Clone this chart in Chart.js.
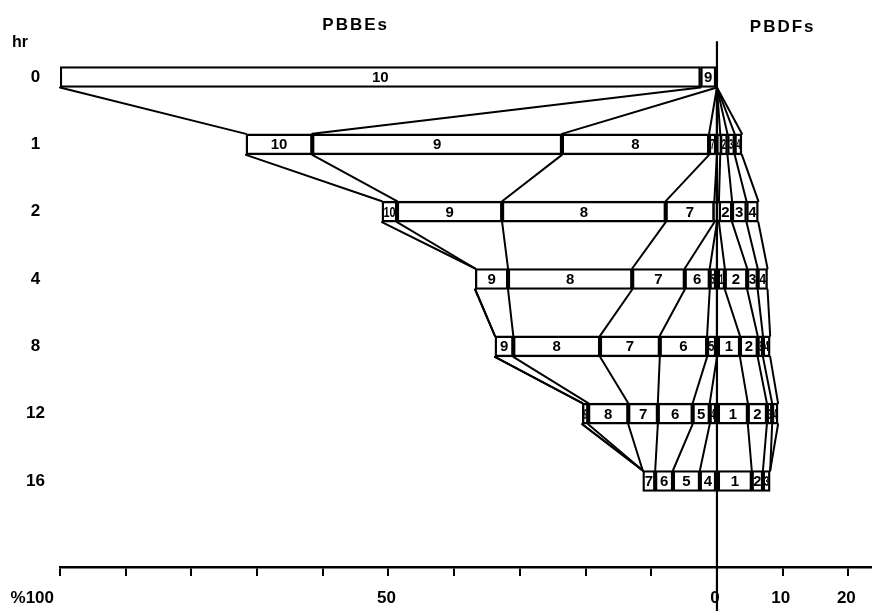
<!DOCTYPE html>
<html>
<head>
<meta charset="utf-8">
<script src="https://cdn.jsdelivr.net/npm/chart.js@4/dist/chart.umd.min.js"></script>
<style>
  html, body { margin: 0; padding: 0; background: #fff; }
  #wrap { width: 872px; height: 611px; }
</style>
</head>
<body>
<div id="wrap"><canvas id="c" width="872" height="611"></canvas></div>
<script>
// Sampling times (hours) — one row each
const hours = ['0', '1', '2', '4', '8', '12', '16'];

// PBBE congener shares (% of total) at each time, plotted to the left of zero
const pbbe10 = [97.5, 10.1,  2.3,  0.0,  0.0, 0.0, 0.0];
const pbbe9  = [ 2.5, 38.0, 16.0,  5.0,  2.8, 0.9, 0.0];
const pbbe8  = [ 0.0, 22.4, 24.9, 18.9, 13.2, 6.1, 0.0];
const pbbe7  = [ 0.0,  1.2,  7.4,  8.0,  9.1, 4.5, 1.9];
const pbbe6  = [ 0.0,  0.0,  0.4,  3.8,  7.2, 5.3, 2.7];
const pbbe5  = [ 0.0,  0.0,  0.0,  1.1,  1.5, 2.6, 4.1];
const pbbe4  = [ 0.0,  0.0,  0.0,  0.0,  0.0, 1.1, 2.6];

// PBDF congener shares (% of total) at each time, plotted to the right of zero
const pbdf1 = [0.0, 0.5, 0.3, 1.2, 3.5, 4.7, 5.3];
const pbdf2 = [0.0, 1.1, 2.0, 3.4, 2.7, 2.9, 1.7];
const pbdf3 = [0.0, 1.1, 2.2, 1.6, 0.8, 0.8, 1.1];
const pbdf4 = [0.0, 1.1, 1.8, 1.5, 1.1, 0.9, 0.0];

// Percent axis: tick marks every 10, numbers only at a few of them
const axisTickValues  = [-100, -90, -80, -70, -60, -50, -40, -30, -20, -10, 0, 10, 20];
const axisLabelValues = [-100, -50, 0, 10, 20];

const FONT = '"Liberation Sans", Arial, Helvetica, sans-serif';
const BAR_PX = 21;

// congeners ordered from the zero line outwards
const pbbeStack = [[4, pbbe4], [5, pbbe5], [6, pbbe6], [7, pbbe7], [8, pbbe8], [9, pbbe9], [10, pbbe10]];
const pbdfStack = [[1, pbdf1], [2, pbdf2], [3, pbdf3], [4, pbdf4]];

// Turn the shares into floating bar segments plus the running boundaries
function buildSide(stack, sign) {
  const segments = [];
  const bounds = stack.map(() => []);
  hours.forEach((h, i) => {
    let acc = 0;
    stack.forEach(([congener, arr], k) => {
      const v = arr[i];
      const from = acc;
      acc += v;
      if (v > 0) {
        const a = sign * from, b = sign * acc;
        segments.push({ x: [Math.min(a, b), Math.max(a, b)], y: i, c: String(congener) });
      }
      bounds[k].push(sign * acc);
    });
  });
  return { segments, bounds };
}

const left = buildSide(pbbeStack, -1);
const right = buildSide(pbdfStack, 1);

const decor = {
  id: 'decor',
  beforeDatasetsDraw(chart) {
    const { ctx, scales: { x, y }, chartArea } = chart;
    ctx.save();
    ctx.strokeStyle = '#000';
    ctx.lineCap = 'round';
    // zero line
    ctx.lineWidth = 2.2;
    const x0 = x.getPixelForValue(0);
    ctx.beginPath();
    ctx.moveTo(x0, chartArea.top);
    ctx.lineTo(x0, chart.height);
    ctx.stroke();
    // links between the same boundary on consecutive rows
    ctx.lineWidth = 2;
    const half = BAR_PX / 2;
    [left.bounds, right.bounds].forEach(side => {
      side.forEach(series => {
        for (let i = 0; i < hours.length - 1; i++) {
          ctx.beginPath();
          ctx.moveTo(x.getPixelForValue(series[i]), y.getPixelForValue(i) + half);
          ctx.lineTo(x.getPixelForValue(series[i + 1]), y.getPixelForValue(i + 1) - half);
          ctx.stroke();
        }
      });
    });
    ctx.restore();
  },
  afterDatasetsDraw(chart) {
    const { ctx } = chart;
    ctx.save();
    ctx.fillStyle = '#000';
    ctx.font = 'bold 15px ' + FONT;
    ctx.textAlign = 'center';
    ctx.textBaseline = 'middle';
    chart.data.datasets.forEach((ds, d) => {
      chart.getDatasetMeta(d).data.forEach((el, j) => {
        const p = el.getProps(['x', 'base', 'y'], true);
        const l = Math.min(p.x, p.base), r = Math.max(p.x, p.base);
        const avail = r - l - 3;
        if (avail < 2) return;
        const txt = ds.data[j].c;
        const w = ctx.measureText(txt).width;
        const s = Math.min(1, avail / w);
        ctx.save();
        ctx.translate((l + r) / 2, p.y + 1);
        ctx.scale(s, 1);
        ctx.fillText(txt, 0, 0);
        ctx.restore();
      });
    });
    ctx.restore();
  },
  afterDraw(chart) {
    const { ctx, scales: { x } } = chart;
    ctx.save();
    ctx.fillStyle = '#000';
    ctx.textBaseline = 'middle';
    ctx.textAlign = 'center';
    ctx.font = 'bold 17px ' + FONT;
    if ('letterSpacing' in ctx) ctx.letterSpacing = '2px';
    ctx.fillText('PBBEs', x.getPixelForValue(-55), 25);
    ctx.fillText('PBDFs', x.getPixelForValue(10), 27);
    if ('letterSpacing' in ctx) ctx.letterSpacing = '0px';
    ctx.font = 'bold 16px ' + FONT;
    ctx.fillText('hr', 20, 43);
    // percent axis numbers
    ctx.font = 'bold 17px ' + FONT;
    axisLabelValues.forEach(v => {
      const px = x.getPixelForValue(v);
      if (v === -100) {
        ctx.textAlign = 'right';
        ctx.fillText('%100', px - 6, 598);
        ctx.textAlign = 'center';
      } else {
        ctx.fillText(String(Math.abs(v)), px - 2, 598);
      }
    });
    ctx.restore();
  }
};

new Chart(document.getElementById('c'), {
  type: 'bar',
  data: {
    datasets: [
      {
        label: 'PBBEs',
        data: left.segments,
        backgroundColor: '#fff',
        borderColor: '#000',
        borderWidth: 2.4,
        borderSkipped: false,
        barThickness: BAR_PX,
        grouped: false
      },
      {
        label: 'PBDFs',
        data: right.segments,
        backgroundColor: '#fff',
        borderColor: '#000',
        borderWidth: 2.4,
        borderSkipped: false,
        barThickness: BAR_PX,
        grouped: false
      }
    ]
  },
  options: {
    indexAxis: 'y',
    responsive: false,
    animation: false,
    devicePixelRatio: 1,
    layout: { padding: { top: 42, right: 0, bottom: 0, left: 0 } },
    plugins: { legend: { display: false }, tooltip: { enabled: false } },
    scales: {
      x: {
        type: 'linear',
        position: 'bottom',
        min: -100,
        max: 23.6,
        border: { display: true, color: '#000', width: 2.5 },
        grid: { drawOnChartArea: false, drawTicks: true, tickLength: 9, color: '#000', lineWidth: 2 },
        ticks: { display: false },
        afterBuildTicks: s => { s.ticks = axisTickValues.map(v => ({ value: v })); },
        afterFit: s => { s.height = 44; }
      },
      y: {
        type: 'linear',
        reverse: true,
        offset: false,
        min: -0.52,
        max: 7.277,
        border: { display: false },
        grid: { display: false, drawTicks: false, offset: false },
        ticks: {
          color: '#000',
          padding: 15,
          crossAlign: 'center',
          font: { family: FONT, size: 17, weight: 'bold' },
          callback: v => hours[v] !== undefined ? hours[v] : ''
        },
        afterBuildTicks: s => { s.ticks = hours.map((h, i) => ({ value: i })); },
        afterFit: s => { s.width = 60; }
      }
    }
  },
  plugins: [decor]
});
</script>
</body>
</html>
